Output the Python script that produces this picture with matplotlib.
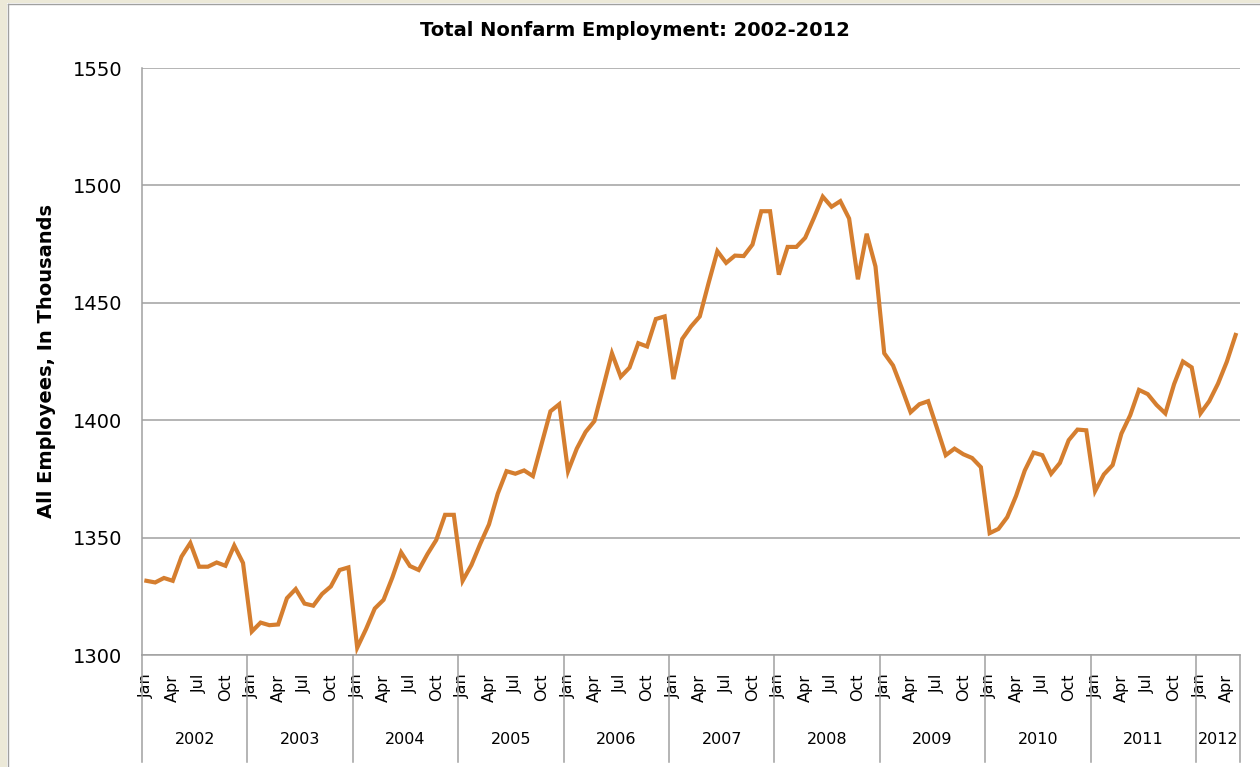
import matplotlib
matplotlib.use("Agg")
import matplotlib.pyplot as plt
import numpy as np
from matplotlib.lines import Line2D
from matplotlib.patches import Rectangle

# Monthly total nonfarm employment (thousands), Jan 2002 - May 2012
emp_2002 = [1331.6, 1330.9, 1332.8, 1331.6, 1341.9, 1347.7, 1337.6, 1337.6, 1339.4, 1338.0, 1346.6, 1339.2]
emp_2003 = [1310.0, 1313.8, 1312.7, 1313.0, 1324.2, 1328.1, 1321.9, 1321.0, 1326.0, 1329.2, 1336.2, 1337.3]
emp_2004 = [1303.1, 1311.0, 1319.8, 1323.5, 1333.0, 1343.7, 1337.9, 1336.2, 1343.0, 1349.0, 1359.7, 1359.7]
emp_2005 = [1331.6, 1338.3, 1347.3, 1355.6, 1368.7, 1378.3, 1377.2, 1378.6, 1376.2, 1390.0, 1403.8, 1406.8]
emp_2006 = [1378.3, 1387.9, 1395.0, 1399.6, 1414.0, 1428.5, 1418.5, 1422.4, 1432.8, 1431.4, 1443.1, 1444.2]
emp_2007 = [1417.5, 1434.6, 1439.9, 1444.2, 1458.4, 1472.0, 1467.0, 1470.1, 1469.9, 1474.8, 1489.0, 1489.0]
emp_2008 = [1462.0, 1473.8, 1473.8, 1477.7, 1486.2, 1495.2, 1490.9, 1493.3, 1485.9, 1460.0, 1479.4, 1465.5]
emp_2009 = [1428.5, 1423.3, 1413.6, 1403.4, 1406.8, 1408.1, 1396.7, 1385.1, 1387.9, 1385.5, 1383.9, 1380.0]
emp_2010 = [1351.9, 1353.7, 1358.7, 1367.7, 1378.6, 1386.2, 1385.1, 1377.2, 1381.8, 1391.5, 1396.0, 1395.7]
emp_2011 = [1369.8, 1376.9, 1380.9, 1394.3, 1402.1, 1412.9, 1411.1, 1406.5, 1402.9, 1415.4, 1425.0, 1422.5]
emp_2012 = [1402.9, 1408.1, 1415.6, 1424.9, 1436.3]

years = [2002, 2003, 2004, 2005, 2006, 2007, 2008, 2009, 2010, 2011, 2012]
month_names = ["Jan", "Feb", "Mar", "Apr", "May", "Jun",
               "Jul", "Aug", "Sep", "Oct", "Nov", "Dec"]
y_ticks = [1300, 1350, 1400, 1450, 1500, 1550]

employment = (emp_2002 + emp_2003 + emp_2004 + emp_2005 + emp_2006 + emp_2007
              + emp_2008 + emp_2009 + emp_2010 + emp_2011 + emp_2012)
n = len(employment)
x = np.arange(n)

W, H = 1260, 767
fig = plt.figure(figsize=(W / 100, H / 100), dpi=100)
fig.patch.set_facecolor("white")

# window frame (beige strip on the left and top)
fig.patches.append(Rectangle((0, 0), 7 / W, 1, transform=fig.transFigure,
                             facecolor="#ECE9D8", edgecolor="none"))
fig.patches.append(Rectangle((0, 1 - 3 / H), 1, 3 / H, transform=fig.transFigure,
                             facecolor="#ECE9D8", edgecolor="none"))
fig.lines.append(Line2D([7.5 / W, 7.5 / W], [0, 1 - 3.5 / H], transform=fig.transFigure,
                        color="#A0A0A0", lw=1))
fig.lines.append(Line2D([7.5 / W, 1], [1 - 3.5 / H, 1 - 3.5 / H], transform=fig.transFigure,
                        color="#A0A0A0", lw=1))

ax = fig.add_axes([142 / W, (H - 655) / H, 1098 / W, 587 / H])
ax.plot(x, employment, color="#D57E2F", lw=3, solid_joinstyle="miter", zorder=3)

ax.set_xlim(-0.5, n - 0.5)
ax.set_ylim(1300, 1550)
ax.set_yticks(y_ticks)
ax.yaxis.grid(True, color="#A0A0A0", lw=1.1)
ax.set_axisbelow(True)
for side in ["top", "right"]:
    ax.spines[side].set_visible(False)
for side in ["left", "bottom"]:
    ax.spines[side].set_color("#A0A0A0")
    ax.spines[side].set_linewidth(1.1)
ax.tick_params(axis="y", length=0, pad=14, labelsize=14)

# month labels every third month
tick_idx = [i for i in range(n) if i % 3 == 0]
ax.set_xticks(tick_idx)
ax.set_xticklabels([month_names[i % 12] for i in tick_idx], rotation=90, va="top")
ax.tick_params(axis="x", length=0, pad=13.5, labelsize=11.5)

# year groups with separators
trans = ax.get_xaxis_transform()
bottom = -(762 - 655) / 587
for k, yr in enumerate(years):
    start = 12 * k - 0.5
    end = min(12 * (k + 1), n) - 0.5
    ax.text((start + end) / 2, -(739 - 655) / 587, str(yr), transform=trans,
            ha="center", va="center", fontsize=11.5)
    ax.add_line(Line2D([start, start], [0, bottom], transform=trans,
                       color="#A0A0A0", lw=1.1, clip_on=False))
ax.add_line(Line2D([n - 0.5, n - 0.5], [0, bottom], transform=trans,
                   color="#A0A0A0", lw=1.1, clip_on=False))

fig.text(47 / W, (H - 361) / H, "All Employees, In Thousands", rotation=90,
         ha="center", va="center", fontsize=14, fontweight="bold")
fig.text(635 / W, 1 - 31 / H, "Total Nonfarm Employment: 2002-2012",
         ha="center", va="center", fontsize=14, fontweight="bold")

fig.savefig("out.png", dpi=100)
